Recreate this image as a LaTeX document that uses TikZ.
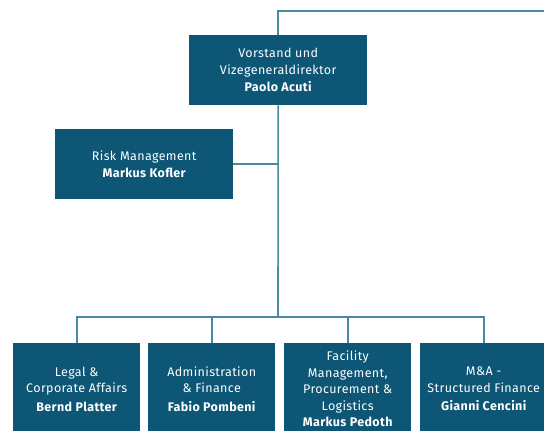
\documentclass[tikz,border=0pt]{standalone}
\usepackage{fontspec}
\setmainfont{Fira Sans}[LetterSpace=3]
\usetikzlibrary{positioning}
\definecolor{BoxBlue}{HTML}{0D5675}
\definecolor{LineBlue}{HTML}{4A88A4}

\begin{document}
\begin{tikzpicture}[x=1pt, y=-1pt, font=\fontsize{12.5}{16.5}\selectfont,
OrgBox/.style={fill=BoxBlue, text=white, align=center, inner sep=0pt, anchor=north west},
OrgLine/.style={LineBlue, line width=1.6pt}]
\useasboundingbox (0,0) rectangle (544,431);
\clip (0,0) rectangle (544,431);
\def\deptTop{343}
\def\deptWidth{127}
\node [OrgBox, minimum width=178, minimum height=70] (board) at (189,35)
  {Vorstand und\\Vizegeneraldirektor\\[1pt]\bfseries Paolo Acuti};
\node [OrgBox, minimum width=178, minimum height=70] (risk) at (55,129)
  {Risk Management\\[1pt]\bfseries Markus Kofler};
\foreach \idx/\posX/\txt in {
  1/13/{Legal \&\\Corporate Affairs\\[2pt]\bfseries Bernd Platter},
  2/148/{Administration\\\& Finance\\[2pt]\bfseries Fabio Pombeni},
  3/284/{Facility\\Management,\\Procurement \&\\Logistics\\\bfseries Markus Pedoth},
  4/420/{M\&A -\\Structured Finance\\[2pt]\bfseries Gianni Cencini}%
} {
  \node [OrgBox, minimum width=\deptWidth, minimum height=92] (dept\idx) at (\posX,\deptTop) {\txt};
}
\coordinate (topRight) at (544,11);
\coordinate (bar) at (278,317);
\draw [OrgLine] (board.north) |- (topRight);
\draw [OrgLine] (board.south) -- (bar);
\draw [OrgLine] (risk.east) -- (risk.east -| bar);
\draw [OrgLine] (dept1.north) |- (bar) -| (dept4.north);
\draw [OrgLine] (dept2.north) -- (dept2.north |- bar);
\draw [OrgLine] (dept3.north) -- (dept3.north |- bar);
\end{tikzpicture}
\end{document}
